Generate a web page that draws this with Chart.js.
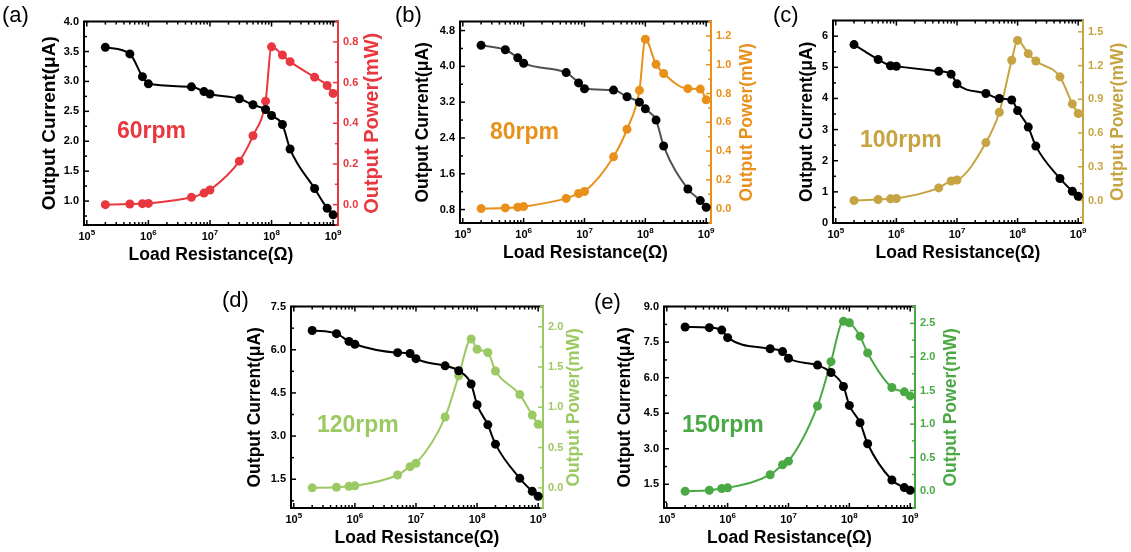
<!DOCTYPE html>
<html>
<head>
<meta charset="utf-8">
<script src="https://cdn.jsdelivr.net/npm/chart.js@4.4.0/dist/chart.umd.min.js"></script>
<style>
  html, body { margin: 0; padding: 0; background: #fff; overflow: hidden; }
  body { width: 1131px; height: 552px; position: relative; font-family: "Liberation Sans", Arial, sans-serif; }
  canvas { position: absolute; }
  .tag { position: absolute; font-size: 22px; line-height: 22px; color: #000; white-space: nowrap; }
  .rpm { position: absolute; font-size: 23px; line-height: 23px; font-weight: bold; white-space: nowrap; }
</style>
</head>
<body>
<script>
// load resistance (ohm), shared by every panel
const resistance = [2e5, 5e5, 8e5, 1e6, 5e6, 8e6, 1e7, 3e7, 5e7, 8e7, 1e8, 1.5e8, 2e8, 5e8, 8e8, 1e9];
const xTickValues = [1e5, 2e5, 3e5, 4e5, 5e5, 6e5, 7e5, 8e5, 9e5,
                     1e6, 2e6, 3e6, 4e6, 5e6, 6e6, 7e6, 8e6, 9e6,
                     1e7, 2e7, 3e7, 4e7, 5e7, 6e7, 7e7, 8e7, 9e7,
                     1e8, 2e8, 3e8, 4e8, 5e8, 6e8, 7e8, 8e8, 9e8, 1e9];

// output current (uA) and output power (mW)
const current60  = [3.57, 3.46, 3.08, 2.96, 2.91, 2.83, 2.79, 2.71, 2.61, 2.53, 2.43, 2.28, 1.87, 1.21, 0.88, 0.77];
const power60    = [0.0, 0.003, 0.005, 0.006, 0.036, 0.057, 0.072, 0.214, 0.339, 0.509, 0.776, 0.736, 0.703, 0.627, 0.586, 0.547];
const current80  = [4.47, 4.37, 4.19, 4.07, 3.86, 3.63, 3.50, 3.47, 3.32, 3.20, 3.05, 2.80, 2.22, 1.26, 1.00, 0.85];
const power80    = [0.0, 0.005, 0.010, 0.014, 0.071, 0.105, 0.119, 0.360, 0.552, 0.822, 1.177, 1.003, 0.939, 0.834, 0.831, 0.756];
const current100 = [5.73, 5.25, 5.05, 5.03, 4.87, 4.78, 4.47, 4.16, 4.00, 3.95, 3.61, 3.08, 2.47, 1.43, 1.02, 0.86];
const power100   = [0.0, 0.009, 0.015, 0.018, 0.112, 0.174, 0.182, 0.515, 0.785, 1.247, 1.424, 1.306, 1.241, 1.100, 0.859, 0.774];
const current120 = [6.67, 6.56, 6.29, 6.19, 5.90, 5.87, 5.69, 5.44, 5.27, 4.81, 4.09, 3.39, 2.72, 1.53, 1.08, 0.91];
const power120   = [0.0, 0.008, 0.020, 0.025, 0.160, 0.263, 0.304, 0.879, 1.392, 1.848, 1.720, 1.680, 1.450, 1.158, 0.903, 0.789];
const current150 = [8.14, 8.11, 8.01, 7.69, 7.22, 7.10, 6.82, 6.53, 6.22, 5.63, 4.83, 4.10, 3.21, 1.68, 1.36, 1.25];
const power150   = [0.0, 0.015, 0.040, 0.050, 0.246, 0.394, 0.448, 1.270, 1.930, 2.530, 2.510, 2.310, 2.060, 1.545, 1.480, 1.420];

// axis tick labels
const currentTicks60  = [1.0, 1.5, 2.0, 2.5, 3.0, 3.5, 4.0];
const powerTicks60    = [0.0, 0.2, 0.4, 0.6, 0.8];
const currentTicks80  = [0.8, 1.6, 2.4, 3.2, 4.0, 4.8];
const powerTicks80    = [0.0, 0.2, 0.4, 0.6, 0.8, 1.0, 1.2];
const currentTicks100 = [0, 1, 2, 3, 4, 5, 6];
const powerTicks100   = [0.0, 0.3, 0.6, 0.9, 1.2, 1.5];
const currentTicks120 = [1.5, 3.0, 4.5, 6.0, 7.5];
const powerTicks120   = [0.0, 0.5, 1.0, 1.5, 2.0];
const currentTicks150 = [1.5, 3.0, 4.5, 6.0, 7.5, 9.0];
const powerTicks150   = [0.0, 0.5, 1.0, 1.5, 2.0, 2.5];

const FONT = '"Liberation Sans", Arial, sans-serif';
const W_LEFT = 60, W_RIGHT = 48, PAD_TOP = 10, H_BOTTOM = 45;

const panels = [
  { tag: '(a)', rpm: '60rpm', color: '#e8373e', line: '#000', current: current60, power: power60,
    cTicks: currentTicks60, pTicks: powerTicks60, cRange: [0.6, 4.0], pRange: [-0.1, 0.9], cDec: 1, pDec: 1,
    box: { l: 84, r: 338, t: 20, b: 225 }, tagPos: [2, 23], rpmPos: [117, 138],
    leftGap: 34, rightGap: 34, leftSize: 19, rightSize: 20 },
  { tag: '(b)', rpm: '80rpm', color: '#e8901a', line: '#505050', current: current80, power: power80,
    cTicks: currentTicks80, pTicks: powerTicks80, cRange: [0.5, 5.0], pRange: [-0.1, 1.3], cDec: 1, pDec: 1,
    box: { l: 460, r: 711, t: 20, b: 223 }, tagPos: [395, 23], rpmPos: [490, 139],
    leftGap: 37, rightGap: 36, leftSize: 17.5, rightSize: 17.5 },
  { tag: '(c)', rpm: '100rpm', color: '#c6a443', line: '#000', current: current100, power: power100,
    cTicks: currentTicks100, pTicks: powerTicks100, cRange: [0, 6.5], pRange: [-0.2, 1.6], cDec: 0, pDec: 1,
    box: { l: 833, r: 1083, t: 19, b: 223 }, tagPos: [773, 23], rpmPos: [860, 147],
    leftGap: 26, rightGap: 35, leftSize: 17.5, rightSize: 17.5 },
  { tag: '(d)', rpm: '120rpm', color: '#9bca62', line: '#000', current: current120, power: power120,
    cTicks: currentTicks120, pTicks: powerTicks120, cRange: [0.5, 7.5], pRange: [-0.25, 2.25], cDec: 1, pDec: 1,
    box: { l: 291, r: 543, t: 305, b: 508 }, tagPos: [222, 308], rpmPos: [317, 432],
    leftGap: 36, rightGap: 31, leftSize: 17.5, rightSize: 17.5 },
  { tag: '(e)', rpm: '150rpm', color: '#4aa944', line: '#000', current: current150, power: power150,
    cTicks: currentTicks150, pTicks: powerTicks150, cRange: [0.5, 9.0], pRange: [-0.25, 2.75], cDec: 1, pDec: 1,
    box: { l: 664, r: 915, t: 305, b: 508 }, tagPos: [594, 310], rpmPos: [682, 432],
    leftGap: 39, rightGap: 36, leftSize: 17.5, rightSize: 17.5 }
];

function isDecade(v) {
  const e = Math.log10(v);
  return Math.abs(e - Math.round(e)) < 1e-9;
}

// frame with inward ticks on all four sides, right axis in the power colour
const axisFrame = {
  id: 'axisFrame',
  beforeDatasetsDraw(chart, args, o) {
    const { ctx, chartArea: a, scales } = chart;
    const seg = (x1, y1, x2, y2) => { ctx.beginPath(); ctx.moveTo(x1, y1); ctx.lineTo(x2, y2); ctx.stroke(); };
    const minors = (ticks, min, max) => {
      const step = ticks[1] - ticks[0];
      const out = [];
      for (let v = ticks[0] - step / 2; v <= max + 1e-9; v += step) if (v >= min - 1e-9) out.push(v);
      return out;
    };
    ctx.save();
    ctx.lineWidth = 2;
    ctx.lineCap = 'square';
    ctx.strokeStyle = '#000';
    ctx.beginPath();
    ctx.moveTo(a.right, a.top);
    ctx.lineTo(a.left, a.top);
    ctx.lineTo(a.left, a.bottom);
    ctx.lineTo(a.right, a.bottom);
    ctx.stroke();
    ctx.lineWidth = 1.5;
    ctx.lineCap = 'butt';
    scales.x.ticks.forEach(t => {
      const px = scales.x.getPixelForValue(t.value);
      const len = isDecade(t.value) ? 5 : 3;
      seg(px, a.bottom, px, a.bottom - len);
      seg(px, a.top, px, a.top + len);
    });
    const y = scales.y, y1 = scales.y1;
    y.ticks.forEach(t => { const py = y.getPixelForValue(t.value); seg(a.left, py, a.left + 5, py); });
    minors(y.ticks.map(t => t.value), y.min, y.max).forEach(v => {
      const py = y.getPixelForValue(v); seg(a.left, py, a.left + 3, py);
    });
    ctx.strokeStyle = o.color;
    y1.ticks.forEach(t => { const py = y1.getPixelForValue(t.value); seg(a.right, py, a.right - 5, py); });
    minors(y1.ticks.map(t => t.value), y1.min, y1.max).forEach(v => {
      const py = y1.getPixelForValue(v); seg(a.right, py, a.right - 3, py);
    });
    ctx.lineWidth = 2;
    ctx.lineCap = 'square';
    seg(a.right, a.top, a.right, a.bottom);
    ctx.restore();
  },
  afterDraw(chart, args, o) {
    const { ctx, chartArea: a, scales } = chart;
    ctx.save();
    // decade labels under the log axis: "10" with a raised exponent
    ctx.fillStyle = '#000';
    ctx.textBaseline = 'alphabetic';
    scales.x.ticks.filter(t => isDecade(t.value)).forEach(t => {
      const px = scales.x.getPixelForValue(t.value);
      const exp = String(Math.round(Math.log10(t.value)));
      ctx.font = `bold 11px ${FONT}`;
      const wBase = ctx.measureText('10').width;
      ctx.font = `bold 8px ${FONT}`;
      const wExp = ctx.measureText(exp).width;
      const x0 = px - (wBase + wExp) / 2;
      ctx.font = `bold 11px ${FONT}`;
      ctx.textAlign = 'left';
      ctx.fillText('10', x0, a.bottom + 15);
      ctx.font = `bold 8px ${FONT}`;
      ctx.fillText(exp, x0 + wBase, a.bottom + 10);
    });
    // right axis title, reading bottom to top
    ctx.translate(a.right + o.gap, (a.top + a.bottom) / 2);
    ctx.rotate(-Math.PI / 2);
    ctx.font = `bold ${o.size}px ${FONT}`;
    ctx.fillStyle = o.color;
    ctx.textAlign = 'center';
    ctx.textBaseline = 'middle';
    ctx.fillText(o.title, 0, 0);
    ctx.restore();
  }
};

panels.forEach(p => {
  const b = p.box;
  const canvas = document.createElement('canvas');
  const w = b.r - b.l + W_LEFT + W_RIGHT, h = b.b - b.t + PAD_TOP + H_BOTTOM;
  canvas.style.left = (b.l - W_LEFT) + 'px';
  canvas.style.top = (b.t - PAD_TOP) + 'px';
  canvas.style.width = w + 'px';
  canvas.style.height = h + 'px';
  canvas.width = w;
  canvas.height = h;
  document.body.appendChild(canvas);

  const tag = document.createElement('div');
  tag.className = 'tag';
  tag.textContent = p.tag;
  tag.style.left = p.tagPos[0] + 'px';
  tag.style.top = (p.tagPos[1] - 18.6) + 'px';
  document.body.appendChild(tag);

  const rpm = document.createElement('div');
  rpm.className = 'rpm';
  rpm.textContent = p.rpm;
  rpm.style.color = p.color;
  rpm.style.left = p.rpmPos[0] + 'px';
  rpm.style.top = (p.rpmPos[1] - 19.5) + 'px';
  document.body.appendChild(rpm);

  const tickFont = { family: FONT, size: 11, weight: 'bold' };
  new Chart(canvas, {
    type: 'line',
    data: {
      datasets: [
        {
          label: 'Output Current',
          data: resistance.map((r, i) => ({ x: r, y: p.current[i] })),
          yAxisID: 'y',
          borderColor: p.line,
          backgroundColor: '#000',
          borderWidth: 2,
          pointRadius: 4.5,
          pointBorderWidth: 0,
          pointBackgroundColor: '#000',
          cubicInterpolationMode: 'monotone',
          clip: false
        },
        {
          label: 'Output Power',
          data: resistance.map((r, i) => ({ x: r, y: p.power[i] })),
          yAxisID: 'y1',
          borderColor: p.color,
          backgroundColor: p.color,
          borderWidth: 2,
          pointRadius: 4.5,
          pointBorderWidth: 0,
          pointBackgroundColor: p.color,
          cubicInterpolationMode: 'monotone',
          clip: false
        }
      ]
    },
    options: {
      responsive: false,
      animation: false,
      devicePixelRatio: 1,
      layout: { padding: { top: PAD_TOP, left: 0, right: 0, bottom: 0 } },
      plugins: {
        legend: { display: false },
        tooltip: { enabled: false },
        axisFrame: { color: p.color, title: 'Output Power(mW)', size: p.rightSize, gap: p.rightGap }
      },
      scales: {
        x: {
          type: 'logarithmic',
          position: 'bottom',
          min: 9e4,
          max: 1.2e9,
          grid: { display: false, drawTicks: false },
          border: { display: false },
          afterBuildTicks: s => { s.ticks = xTickValues.map(v => ({ value: v, major: isDecade(v) })); },
          afterFit: s => { s.height = H_BOTTOM; },
          ticks: { display: false, autoSkip: false, maxRotation: 0 },
          title: {
            display: true,
            text: 'Load Resistance(\u03A9)',
            color: '#000',
            font: { family: FONT, size: 17.5, weight: 'bold' },
            padding: { top: 0, bottom: H_BOTTOM - 30 - 10.5 }
          }
        },
        y: {
          type: 'linear',
          position: 'left',
          min: p.cRange[0],
          max: p.cRange[1],
          grid: { display: false, drawTicks: false },
          border: { display: false },
          afterBuildTicks: s => { s.ticks = p.cTicks.map(v => ({ value: v })); },
          afterFit: s => { s.width = W_LEFT; },
          ticks: { padding: 5, color: '#000', font: tickFont, callback: v => Number(v).toFixed(p.cDec) },
          title: {
            display: true,
            text: 'Output Current(\u03BCA)',
            color: '#000',
            font: { family: FONT, size: p.leftSize, weight: 'bold' },
            padding: { top: W_LEFT - p.leftGap - p.leftSize * 0.6, bottom: 0 }
          }
        },
        y1: {
          type: 'linear',
          position: 'right',
          min: p.pRange[0],
          max: p.pRange[1],
          grid: { display: false, drawTicks: false },
          border: { display: false },
          afterBuildTicks: s => { s.ticks = p.pTicks.map(v => ({ value: v })); },
          afterFit: s => { s.width = W_RIGHT; },
          ticks: { padding: 5, color: p.color, font: tickFont, callback: v => Number(v).toFixed(p.pDec) }
        }
      }
    },
    plugins: [axisFrame]
  });
});
</script>
</body>
</html>
